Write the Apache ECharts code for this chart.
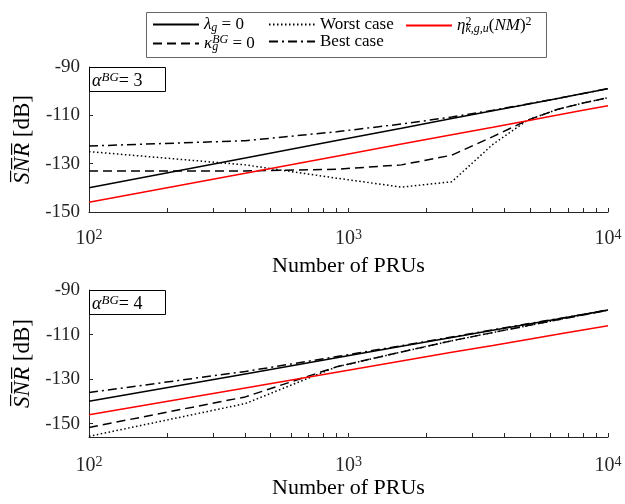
<!DOCTYPE html>
<html><head><meta charset="utf-8">
<script src="https://cdn.jsdelivr.net/npm/echarts@6/dist/echarts.min.js"></script>
<style>html,body{margin:0;padding:0;background:#fff}#c{width:625px;height:504px}</style>
</head><body><div id="c"></div>
<script>
// ---- data ----
const prus = [100, 400, 900, 1600, 2500, 3600, 4900, 6400, 8100, 10000];
const xTickValues = [100,200,300,400,500,600,700,800,900,1000,2000,3000,4000,5000,6000,7000,8000,9000,10000];
const xTickLabels = [100, 1000, 10000];
const yTickLabels = [-150, -130, -110, -90];
const seriesNames = ['lambda', 'worst', 'eta', 'kappa', 'best'];
// alpha^BG = 3
const a3Lambda = [-140, -127.7, -120.4, -115.3, -111.3, -108.1, -105.4, -103.0, -100.9, -99.0];
const a3Worst  = [-125, -130.5, -136, -139.7, -137.5, -122, -112, -107.5, -104.8, -102.7];
const a3Eta    = [-146, -134, -126.9, -121.9, -118, -114.9, -112.2, -109.9, -107.8, -106];
const a3Kappa  = [-133, -133, -132.3, -130.5, -126.5, -118.8, -112, -107.5, -104.8, -102.7];
const a3Best   = [-122.7, -120.5, -116.8, -113.6, -110.7, -107.9, -105.3, -103.0, -100.9, -98.9];
// alpha^BG = 4
const a4Lambda = [-140, -127.7, -120.4, -115.3, -111.3, -108.1, -105.4, -103.0, -100.9, -99.0];
const a4Worst  = [-155.7, -141, -124.5, -117.8, -112.8, -109.1, -106, -103.4, -101.1, -99.1];
const a4Eta    = [-146, -134, -126.9, -121.9, -118, -114.9, -112.2, -109.9, -107.8, -106];
const a4Kappa  = [-151.7, -138, -124.5, -117.8, -112.8, -109.1, -106, -103.4, -101.1, -99.1];
const a4Best   = [-136, -126.6, -119.9, -115.0, -111.1, -107.9, -105.2, -102.9, -100.9, -98.9];

// ---- styles ----
const serif = 'Liberation Serif';
const axisColor = '#262626';
const styles = {
  lambda: {color: '#000', type: 'solid'},
  worst:  {color: '#000', type: [1.5, 2.5]},
  eta:    {color: '#ff0000', type: 'solid'},
  kappa:  {color: '#000', type: [9, 5]},
  best:   {color: '#000', type: [9, 4, 2, 4]}
};
const base = {fontFamily: serif, fontWeight: 'normal', color: '#000'};
function makeRich(fs, ss, lh) {
  return {
    m: Object.assign({fontStyle: 'italic', fontSize: fs, lineHeight: lh}, base),
    n: Object.assign({fontStyle: 'normal', fontSize: fs, lineHeight: lh}, base),
    sub: Object.assign({fontStyle: 'italic', fontSize: ss, lineHeight: 8, verticalAlign: 'bottom'}, base),
    sub0: Object.assign({fontStyle: 'italic', fontSize: ss, lineHeight: 8, verticalAlign: 'bottom', width: 0}, base),
    sup: Object.assign({fontStyle: 'italic', fontSize: ss, lineHeight: 8, verticalAlign: 'top'}, base),
    supn: Object.assign({fontStyle: 'normal', fontSize: ss, lineHeight: 8, verticalAlign: 'top'}, base),
    supn0: Object.assign({fontStyle: 'normal', fontSize: ss, lineHeight: 8, verticalAlign: 'top', width: 0}, base)
  };
}
const mathRich = makeRich(17, 12, 19);
const titleRich = makeRich(18, 13, 20);
const legendText = {
  lambda: '{m|λ}{sub|g}{n| = 0}',
  worst: '{n|Worst case}',
  eta: '{m|η}{supn0|2}{sub|k,g,u}{n|(}{m|NM}{n|)}{supn|2}',
  kappa: '{m|κ}{sub0|g}{sup|BG}{n| = 0}',
  best: '{n|Best case}'
};
const legendColumns = [['lambda', 'kappa'], ['worst', 'best'], ['eta']];
const legendLefts = [152, 268, 405];

const grids = [
  {left: 89, right: 17, top: 67, height: 145},
  {left: 89, right: 17, top: 290, height: 147}
];
const yRanges = [[-150, -90], [-156, -90]];
const xNameGaps = [43, 39];
const xLabelMargins = [16, 18];

function xAxis(i) {
  return {
    type: 'log', logBase: 10, gridIndex: i, min: 100, max: 10000,
    name: 'Number of PRUs', nameLocation: 'middle', nameGap: xNameGaps[i],
    nameTextStyle: {fontFamily: serif, fontSize: 22, color: '#000'},
    axisLine: {lineStyle: {color: axisColor, width: 1}},
    axisTick: {inside: true, length: 4, customValues: xTickValues, lineStyle: {color: axisColor}},
    axisLabel: {
      customValues: xTickLabels, margin: xLabelMargins[i],
      formatter: v => '{b|10}{s|' + Math.round(Math.log10(v)) + '}',
      rich: {
        b: {fontFamily: serif, fontSize: 20, color: axisColor, lineHeight: 22},
        s: {fontFamily: serif, fontSize: 14, color: axisColor, lineHeight: 12, verticalAlign: 'top'}
      }
    },
    splitLine: {show: false}
  };
}
function yAxis(i) {
  return {
    type: 'value', gridIndex: i, min: yRanges[i][0], max: yRanges[i][1],
    name: '{o|S\u0305N\u0305R\u0305}{n| [dB]}', nameLocation: 'middle', nameGap: 55,
    nameTextStyle: {
      rich: {
        o: {fontFamily: serif, fontStyle: 'italic', fontSize: 23, color: '#000'},
        n: {fontFamily: serif, fontSize: 23, color: '#000'}
      }
    },
    axisLine: {show: true, lineStyle: {color: axisColor, width: 1}},
    axisTick: {inside: true, length: 4, customValues: yTickLabels, lineStyle: {color: axisColor}},
    axisLabel: {customValues: yTickLabels, margin: 9, fontFamily: serif, fontSize: 19, color: axisColor},
    splitLine: {show: false}
  };
}
const dataSets = [
  {lambda: a3Lambda, worst: a3Worst, eta: a3Eta, kappa: a3Kappa, best: a3Best},
  {lambda: a4Lambda, worst: a4Worst, eta: a4Eta, kappa: a4Kappa, best: a4Best}
];
const series = [];
[0, 1].forEach(i => {
  seriesNames.forEach(name => {
    series.push({
      type: 'line', name, xAxisIndex: i, yAxisIndex: i,
      data: prus.map((x, k) => [x, dataSets[i][name][k]]),
      symbol: 'none', animation: false, z: name === 'eta' ? 3 : 2,
      lineStyle: {color: styles[name].color, type: styles[name].type, width: 1.5},
      itemStyle: {color: styles[name].color}
    });
  });
});
const alphaLabels = ['3', '4'];
const option = {
  backgroundColor: '#fff',
  animation: false,
  grid: grids,
  xAxis: [xAxis(0), xAxis(1)],
  yAxis: [yAxis(0), yAxis(1)],
  title: [0, 1].map(i => ({
    text: '{m|α}{sup|BG}{n|= ' + alphaLabels[i] + '}',
    left: 89, top: grids[i].top,
    padding: [4, 23, 2, 3],
    borderColor: '#000', borderWidth: 1, backgroundColor: '#fff',
    textStyle: {fontWeight: 'normal', rich: titleRich}
  })),
  graphic: [{
    type: 'rect', left: 146, top: 12, z: 0, silent: true,
    shape: {width: 400, height: 45},
    style: {fill: '#fff', stroke: '#666', lineWidth: 1}
  }],
  legend: legendColumns.map((col, j) => ({
    left: legendLefts[j], top: 16, orient: 'vertical',
    padding: 0, itemGap: 0,
    itemWidth: 46, itemHeight: 12,
    itemStyle: {color: 'rgba(0,0,0,0)', borderWidth: 0, opacity: 0},
    data: col,
    formatter: n => legendText[n],
    textStyle: {rich: mathRich},
    selectedMode: false, z: 5
  })),
  series
};
echarts.init(document.getElementById('c'), null, {renderer: 'canvas'}).setOption(option);
</script>
</body></html>
